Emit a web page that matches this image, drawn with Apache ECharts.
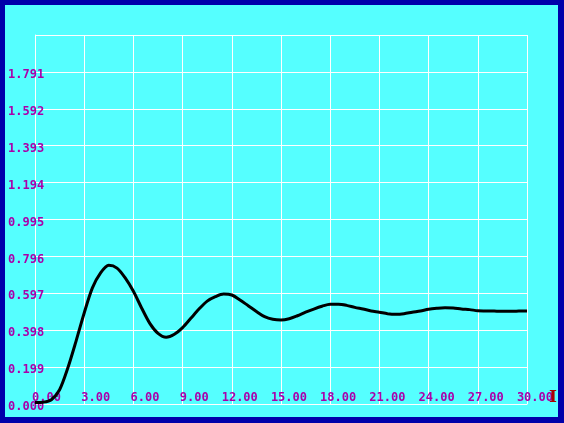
<!DOCTYPE html>
<html>
<head>
<meta charset="utf-8">
<script src="https://cdn.jsdelivr.net/npm/echarts@6/dist/echarts.min.js"></script>
<style>html,body{margin:0;padding:0;background:#0000AA;}#c{width:564px;height:423px;}</style>
</head>
<body>
<div id="c"></div>
<script>
// Time values (x), every 0.5
const tValues = [0, 0.5, 1, 1.5, 2, 2.5, 3, 3.5, 4, 4.5, 5, 5.5, 6, 6.5, 7, 7.5, 8, 8.5, 9, 9.5, 10, 10.5, 11, 11.5, 12, 12.5, 13, 13.5, 14, 14.5, 15, 15.5, 16, 16.5, 17, 17.5, 18, 18.5, 19, 19.5, 20, 20.5, 21, 21.5, 22, 22.5, 23, 23.5, 24, 24.5, 25, 25.5, 26, 26.5, 27, 27.5, 28, 28.5, 29, 29.5, 30];
// Response values (y)
const yValues = [0.008, 0.010, 0.023, 0.077, 0.194, 0.338, 0.491, 0.626, 0.707, 0.748, 0.733, 0.680, 0.608, 0.518, 0.435, 0.381, 0.360, 0.376, 0.412, 0.462, 0.512, 0.555, 0.579, 0.593, 0.588, 0.561, 0.530, 0.499, 0.471, 0.457, 0.453, 0.460, 0.476, 0.495, 0.512, 0.527, 0.538, 0.538, 0.532, 0.521, 0.512, 0.502, 0.495, 0.487, 0.484, 0.487, 0.495, 0.502, 0.511, 0.516, 0.519, 0.518, 0.512, 0.509, 0.503, 0.502, 0.501, 0.500, 0.500, 0.501, 0.502];
// Axis settings
const xMin = 0, xMax = 30, xStep = 3;
const yMin = 0, yMax = 1.99, yStep = 0.199;

const data = tValues.map((t, i) => [t, yValues[i]]);
const chart = echarts.init(document.getElementById('c'), null, {renderer: 'canvas'});
const font = '"DejaVu Sans Mono", monospace';
chart.setOption({
  animation: false,
  backgroundColor: '#0000AA',
  graphic: [
    {type: 'rect', z: -10, silent: true, shape: {x: 5, y: 5, width: 553, height: 412}, style: {fill: '#55FFFF'}},
    {type: 'text', z: 100, silent: true, x: 549, y: 389, style: {text: 'I', fill: '#AA0000', fontSize: 17, fontFamily: '"DejaVu Serif", serif', fontWeight: 'bold'}}
  ],
  grid: {left: 35, top: 35, width: 492, height: 369, containLabel: false},
  xAxis: {
    type: 'value', min: xMin, max: xMax, interval: xStep,
    axisLine: {show: true, lineStyle: {color: '#FFFFFF', width: 1}},
    axisTick: {show: false},
    splitLine: {show: true, lineStyle: {color: '#FFFFFF', width: 1}},
    axisLabel: {
      inside: true, margin: 6, align: 'left', verticalAlign: 'middle',
      color: '#AA00AA', fontFamily: font, fontWeight: 'bold', fontSize: 12,
      formatter: v => '{a|' + v.toFixed(2) + '}',
      rich: {a: {width: 26, align: 'right', color: '#AA00AA', fontFamily: font, fontWeight: 'bold', fontSize: 12}}
    }
  },
  yAxis: {
    type: 'value', min: yMin, max: yMax, interval: yStep,
    axisLine: {show: true, lineStyle: {color: '#FFFFFF', width: 1}},
    axisTick: {show: false},
    splitLine: {show: true, lineStyle: {color: '#FFFFFF', width: 1}},
    axisLabel: {
      margin: 27, align: 'left', verticalAlign: 'top', lineHeight: 6,
      color: '#AA00AA', fontFamily: font, fontWeight: 'bold', fontSize: 12,
      formatter: v => (v > yMax - yStep / 2 ? '' : v.toFixed(3))
    }
  },
  series: [{
    type: 'line', data: data, showSymbol: false, smooth: 0.3,
    lineStyle: {color: '#000000', width: 3}, z: 5
  }]
});
</script>
</body>
</html>
